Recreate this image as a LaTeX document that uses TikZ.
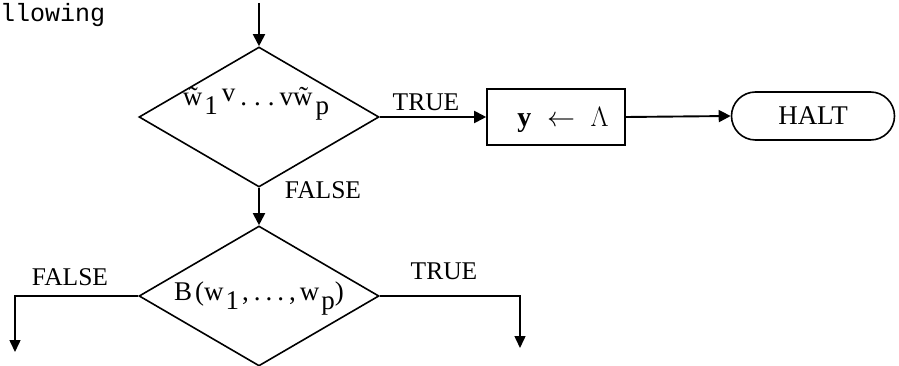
\RequirePackage{fix-cm}
\documentclass[tikz,border=0pt]{standalone}
\usepackage{fontspec}
\setmainfont{Liberation Serif}
\newfontfamily\typew{Liberation Mono}
\usetikzlibrary{shapes.geometric,shapes.misc,arrows.meta}
\newcommand\lowsub[1]{\raisebox{-9pt}{#1}}
\tikzset{
  lbl/.style={font=\fontsize{25.5}{29}\selectfont, inner sep=0pt},
  intext/.style={font=\fontsize{27}{30}\selectfont, inner sep=0pt},
  dec/.style={diamond, draw, line width=1.6pt, minimum width=240pt, minimum height=140pt, inner sep=0pt, aspect=1.7},
  procbox/.style={rectangle, draw, line width=1.6pt, minimum width=138pt, minimum height=56pt, inner sep=0pt},
  termbox/.style={rounded rectangle, draw, line width=1.6pt, minimum width=163pt, minimum height=48pt, inner sep=0pt},
  arr/.style={line width=1.9pt, -{Triangle[length=12pt,width=12pt]}},
  thinarr/.style={line width=1.5pt, -{Triangle[length=12pt,width=11pt]}},
}
\begin{document}
\begin{tikzpicture}[x=1pt,y=-1pt]
\useasboundingbox (0,0) rectangle (899,366);
\node[anchor=base west, inner sep=0pt, font=\typew\fontsize{25}{28}\selectfont] (intro) at (0,22) {llowing};
\coordinate (start) at (259,3);
\node[dec] (d1) at (259,117) {};
\node[intext] (d1t) at (256,104) {\~{w}\hspace{2pt}\lowsub{1}\hspace{4pt}\raisebox{4pt}{v}\hspace{5pt}.\hspace{7pt}.\hspace{7pt}.\hspace{5pt}v\~{w}\hspace{3pt}\lowsub{p}};
\node[procbox] (box) at (556,117) {};
\node[lbl, font=\fontsize{28}{31}\selectfont] (boxt) at (563,120) {$\mathbf{y}\;\leftarrow\;\Lambda$};
\node[termbox] (halt) at (813,116) {};
\node[lbl, font=\fontsize{27}{30}\selectfont] (haltt) at (813,116) {HALT};
\node[dec] (d2) at (259,296) {};
\node[intext] (d2t) at (259,299) {B\hspace{3pt}(w\hspace{2pt}\lowsub{1}\hspace{3pt},\hspace{5pt}.\hspace{5pt}.\hspace{5pt}.\hspace{5pt},\hspace{4pt}w\hspace{2pt}\lowsub{p})};
\coordinate (lf) at (15,352);
\coordinate (rt) at (520,348);
\node[lbl] (ltrue) at (426,102) {TRUE};
\node[lbl] (lfalse1) at (323,190) {FALSE};
\node[lbl] (lfalse2) at (70,277) {FALSE};
\node[lbl] (ltrue2) at (444,271) {TRUE};
\draw[arr] (start) -- (d1.north);
\draw[arr] (d1.east) -- (box.west);
\draw[arr] (box.east) -- (halt.west);
\draw[arr] (d1.south) -- (d2.north);
\draw[thinarr] (d2.west) -| (lf);
\draw[thinarr] (d2.east) -| (rt);
\end{tikzpicture}
\end{document}
